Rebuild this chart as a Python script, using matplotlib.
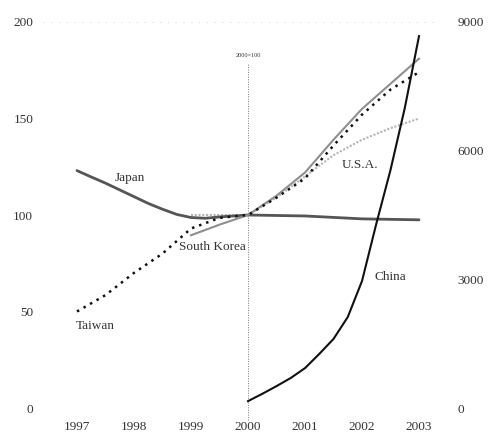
import matplotlib
matplotlib.use("Agg")
import matplotlib.pyplot as plt

plt.rcParams['font.family'] = ['Liberation Serif', 'DejaVu Serif']

# ---- data ----
years_ticks = [1997, 1998, 1999, 2000, 2001, 2002, 2003]
left_ticks = [0, 50, 100, 150, 200]
right_ticks = [0, 3000, 6000, 9000]

japan_x = [1997, 1997.25, 1997.5, 1997.75, 1998, 1998.25, 1998.5, 1998.75, 1999, 1999.25,
           1999.5, 2000, 2001, 2002, 2003]
japan_y = [123, 119.7, 116.5, 113, 109.5, 106, 103, 100.3, 98.7, 98.3,
           99, 100, 99.5, 98, 97.5]

taiwan_x = [1997, 1997.5, 1998, 1998.5, 1999, 1999.5, 2000, 2000.5, 2001, 2001.5, 2002, 2002.5, 2003]
taiwan_y = [50, 58.5, 70, 80, 93, 98.5, 100, 109, 119, 136, 152, 165, 174]

korea_x = [1999, 1999.5, 2000, 2000.5, 2001, 2001.5, 2002, 2002.5, 2003]
korea_y = [89.5, 95, 100, 110, 122, 139, 155, 168, 181]

usa_x = [1999, 1999.5, 2000, 2000.5, 2001, 2001.5, 2002, 2002.5, 2003]
usa_y = [100, 100, 100, 109, 120, 131, 139, 145, 150]

china_x = [2000, 2000.25, 2000.5, 2000.75, 2001, 2001.25, 2001.5, 2001.75, 2002,
           2002.25, 2002.5, 2002.75, 2003]
china_y = [160, 330, 510, 700, 930, 1260, 1610, 2120, 2960,
           4290, 5550, 6990, 8670]

# ---- figure ----
W, H = 491, 436
fig = plt.figure(figsize=(W / 100, H / 100), dpi=100)
x0, x1 = 43, 437
ytop, ybot = 22, 408
ax = fig.add_axes([x0 / W, (H - ybot) / H, (x1 - x0) / W, (ybot - ytop) / H])

px_per_year = 57.0
xmin = 1997 - (77 - x0) / px_per_year
xmax = 1997 + (x1 - 77) / px_per_year
ax.set_xlim(xmin, xmax)
ax.set_ylim(0, 200)

txt = '#333333'

ax.plot(japan_x, japan_y, color='#555555', lw=2.0, solid_capstyle='round',
        solid_joinstyle='round', zorder=3)
ax.plot(taiwan_x, taiwan_y, color='#111111', lw=1.8, linestyle=(0, (1.0, 2.0)), zorder=4)
ax.plot(korea_x, korea_y, color='#8f8f8f', lw=1.5, solid_joinstyle='round', zorder=3)
ax.plot(usa_x, usa_y, color='#b5b5b5', lw=1.5, linestyle=(0, (1.0, 0.8)), zorder=2)

# faint reference lines
ax.axhline(0, color='#cccccc', lw=0.8, linestyle=(0, (1, 4)), zorder=1)
ax.axhline(200, color='#dddddd', lw=0.8, linestyle=(0, (1, 6)), zorder=1)
ax.plot([2000, 2000], [-6, 179], color='#777777', lw=0.7, linestyle=(0, (1, 1.5)),
        clip_on=False, zorder=2)
ax.text(2000, 182.5, '2000=100', ha='center', va='center', fontsize=4.5, color=txt)

ax2 = ax.twinx()
ax2.set_ylim(0, 9000)
ax2.plot(china_x, china_y, color='#111111', lw=1.5, solid_joinstyle='round', zorder=5)

# ticks
ax.set_xticks(years_ticks)
ax.set_xticklabels([str(y) for y in years_ticks])
ax.set_yticks(left_ticks)
ax2.set_yticks(right_ticks)
ax.tick_params(axis='x', length=0, pad=9, labelsize=9.5, labelcolor=txt)
ax.tick_params(axis='y', length=0, pad=7, labelsize=9.5, labelcolor=txt)
ax2.tick_params(axis='y', length=0, pad=15, labelsize=9.5, labelcolor=txt)
for a in (ax, ax2):
    for s in a.spines.values():
        s.set_visible(False)
    a.set_facecolor('none')

# series labels
ax.text(1997.93, 119, 'Japan', ha='center', va='center', fontsize=9.5, color=txt)
ax.text(1999.37, 83.4, 'South Korea', ha='center', va='center', fontsize=9.5, color=txt)
ax.text(1997.33, 42.5, 'Taiwan', ha='center', va='center', fontsize=9.5, color=txt)
ax.text(2001.96, 126, 'U.S.A.', ha='center', va='center', fontsize=9.5, color=txt)
ax.text(2002.49, 68, 'China', ha='center', va='center', fontsize=9.5, color=txt)

fig.savefig('out.png', dpi=100, facecolor='white')
